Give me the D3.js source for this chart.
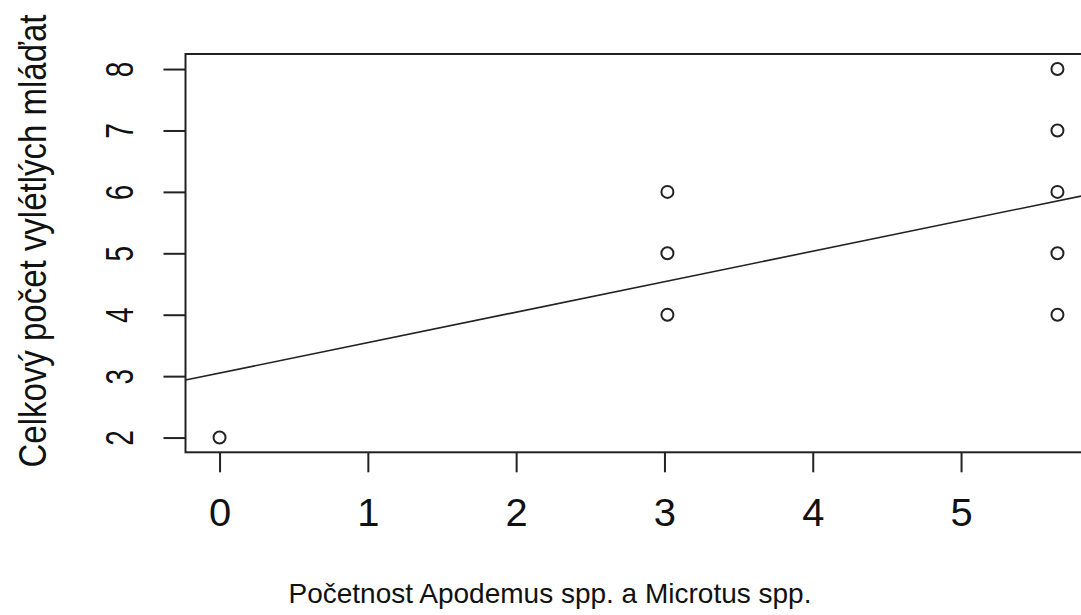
<!DOCTYPE html>
<html>
<head>
<meta charset="utf-8">
<script src="https://cdn.jsdelivr.net/npm/d3@7"></script>
<style>
  body { margin: 0; background: #fff; }
  svg text { font-family: "Liberation Sans", Arial, sans-serif; fill: #111; }
</style>
</head>
<body>
<div id="chart"></div>
<script>
// data
var xVals = [0, 3.02, 3.02, 3.02, 5.65, 5.65, 5.65, 5.65, 5.65];
var yVals = [2, 4, 5, 6, 4, 5, 6, 7, 8];
var xTicks = [0, 1, 2, 3, 4, 5];
var yTicks = [2, 3, 4, 5, 6, 7, 8];
var fitIntercept = 3.05, fitSlope = 0.496;

var W = 1081, H = 615;
var svg = d3.select("#chart").append("svg").attr("width", W).attr("height", H);

// plot region (right side runs off the picture)
var x = d3.scaleLinear().domain([-0.2296, 6.0]).range([185.5, 185.5 + 6.2296 * 148.3]);
var y = d3.scaleLinear().domain([1.76, 8.245]).range([452.3, 54]);

var px = x.range(), py = y.range();

svg.append("defs").append("clipPath").attr("id", "plotclip")
  .append("rect").attr("x", px[0]).attr("y", py[1])
  .attr("width", px[1] - px[0]).attr("height", py[0] - py[1]);

// x axis
var gx = svg.append("g").attr("transform", "translate(0," + py[0] + ")")
  .call(d3.axisBottom(x).tickValues(xTicks).tickSize(20).tickSizeOuter(0).tickFormat(d3.format("d")));
gx.select(".domain").remove();
gx.selectAll(".tick line").attr("stroke", "#222").attr("stroke-width", 2);
gx.selectAll(".tick text").attr("y", 74).attr("dy", null)
  .attr("font-size", 38).attr("fill", "#111")
  .attr("transform", "scale(1.05,1)");

// y axis, labels turned like base R
var gy = svg.append("g").attr("transform", "translate(" + px[0] + ",0)")
  .call(d3.axisLeft(y).tickValues(yTicks).tickSize(22).tickSizeOuter(0).tickFormat(d3.format("d")));
gy.select(".domain").remove();
gy.selectAll(".tick line").attr("stroke", "#222").attr("stroke-width", 2);
gy.selectAll(".tick text")
  .attr("x", null).attr("dy", null)
  .attr("text-anchor", "middle")
  .attr("font-size", 28)
  .attr("transform", "translate(-53,0) rotate(-90) scale(1,1.38)");

// box
svg.append("rect").attr("x", px[0]).attr("y", py[1])
  .attr("width", px[1] - px[0]).attr("height", py[0] - py[1])
  .attr("fill", "none").attr("stroke", "#222").attr("stroke-width", 2);

// fitted line
var xd = x.domain();
svg.append("line").attr("clip-path", "url(#plotclip)")
  .attr("x1", x(xd[0])).attr("y1", y(fitIntercept + fitSlope * xd[0]))
  .attr("x2", x(xd[1])).attr("y2", y(fitIntercept + fitSlope * xd[1]))
  .attr("stroke", "#222").attr("stroke-width", 1.6);

// points
svg.append("g").selectAll("circle")
  .data(d3.range(xVals.length))
  .join("circle")
  .attr("cx", function (i) { return x(xVals[i]); })
  .attr("cy", function (i) { return y(yVals[i]); })
  .attr("r", 6)
  .attr("fill", "none").attr("stroke", "#222").attr("stroke-width", 2);

// axis titles
svg.append("text").attr("x", 550).attr("y", 603)
  .attr("text-anchor", "middle").attr("font-size", 28)
  .text("Početnost Apodemus spp. a Microtus spp.");

svg.append("text")
  .attr("text-anchor", "middle").attr("font-size", 33)
  .attr("transform", "translate(46,241) rotate(-90) scale(1,1.2)")
  .text("Celkový počet vylétlých mláďat");
</script>
</body>
</html>
